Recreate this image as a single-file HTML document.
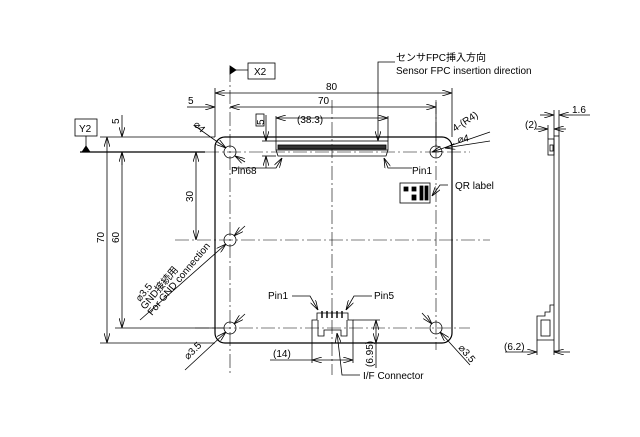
<!DOCTYPE html>
<html><head><meta charset="utf-8"><style>
html,body{margin:0;padding:0;background:#fff;width:640px;height:437px;overflow:hidden}
svg text{font-family:"Liberation Sans","Noto Sans CJK JP",sans-serif;font-size:10px;fill:#000}
</style></head><body>
<svg width="640" height="437" viewBox="0 0 640 437" xmlns="http://www.w3.org/2000/svg">
<defs>
<marker id="a" viewBox="0 0 10 6" refX="10" refY="3" markerWidth="10" markerHeight="6" orient="auto-start-reverse" markerUnits="userSpaceOnUse"><path d="M0,0 L10,3 L0,6" fill="none" stroke="#000" stroke-width="0.8"/></marker>
</defs>
<g stroke="#000" fill="none" stroke-width="0.8">
<!-- board -->
<rect x="215" y="137" width="237" height="206" rx="10" stroke-width="1.2"/>
<!-- center lines -->
<g stroke-dasharray="14,3,2,3" stroke-width="0.6">
<line x1="332" y1="100" x2="332" y2="375"/>
<line x1="230" y1="68" x2="230" y2="375"/>
<line x1="436" y1="100" x2="436" y2="350"/>
<line x1="175" y1="240" x2="490" y2="240"/>
<line x1="195" y1="328" x2="470" y2="328"/>
<line x1="205" y1="152" x2="470" y2="152"/>
</g>
<line x1="80" y1="152" x2="205" y2="152" stroke-width="1.2"/>
<line x1="100" y1="137" x2="215" y2="137"/>
<line x1="100" y1="343" x2="215" y2="343"/>
<!-- holes -->
<circle cx="230" cy="152" r="6"/><circle cx="436" cy="152" r="6"/>
<circle cx="230" cy="240" r="6"/><circle cx="230" cy="328" r="6"/><circle cx="436" cy="328" r="6"/>
<!-- X2 -->
<line x1="230" y1="70" x2="248" y2="70"/>
<rect x="248" y="63" width="27" height="16"/>
<path d="M230,66 L236,70 L230,74Z" fill="#000"/>
<!-- Y2 -->
<rect x="75" y="119" width="22" height="17"/>
<line x1="86" y1="136" x2="86" y2="150"/>
<path d="M82,152 L86,146 L90,152Z" fill="#000"/>
<!-- dims top -->
<line x1="215" y1="88" x2="215" y2="137"/><line x1="452" y1="88" x2="452" y2="137"/>
<line x1="436" y1="102" x2="436" y2="146"/>
<line x1="215" y1="93" x2="452" y2="93" marker-start="url(#a)" marker-end="url(#a)"/>
<line x1="200" y1="107" x2="215" y2="107" marker-end="url(#a)"/>
<line x1="230" y1="107" x2="436" y2="107" marker-start="url(#a)" marker-end="url(#a)"/>
<line x1="187" y1="107" x2="200" y2="107"/>
<!-- left dims -->
<line x1="107" y1="137" x2="107" y2="343" marker-start="url(#a)" marker-end="url(#a)"/>
<line x1="122" y1="152" x2="122" y2="328" marker-start="url(#a)" marker-end="url(#a)"/>
<line x1="122" y1="115" x2="122" y2="137" marker-end="url(#a)"/>
<line x1="122" y1="152" x2="122" y2="165"/>
<line x1="196" y1="152" x2="196" y2="240" marker-start="url(#a)" marker-end="url(#a)"/>
<line x1="115" y1="328" x2="224" y2="328"/>
<!-- top connector -->
<rect x="276" y="141" width="112" height="9"/>
<rect x="278" y="145" width="108" height="4" fill="#333"/>
<path d="M276,150 L278,156 L386,156 L388,150"/>
<line x1="276" y1="116" x2="276" y2="141"/><line x1="388" y1="116" x2="388" y2="141"/>
<line x1="276" y1="118" x2="388" y2="118" marker-start="url(#a)" marker-end="url(#a)"/>
<line x1="262" y1="141" x2="276" y2="141"/><line x1="262" y1="156" x2="276" y2="156"/>
<line x1="266" y1="115" x2="266" y2="141" marker-end="url(#a)"/>
<line x1="266" y1="156" x2="266" y2="168" marker-start="url(#a)"/>
<rect x="256" y="114" width="8" height="12"/>
<!-- FPC leader -->
<path d="M378,141 L378,62 L395,62" marker-start="url(#a)"/>
<!-- leaders -->
<path d="M234,168 L276,168 L282,158" marker-end="url(#a)"/>
<path d="M412,168 L388,168 L384,158" marker-end="url(#a)"/>
<line x1="195" y1="126" x2="226" y2="148" marker-end="url(#a)"/>
<line x1="245" y1="162" x2="235" y2="156" marker-end="url(#a)"/>
<line x1="490" y1="132" x2="432" y2="152" marker-end="url(#a)"/>
<line x1="490" y1="141" x2="445" y2="148" marker-end="url(#a)"/>
<!-- QR -->
<rect x="400" y="183" width="30" height="20"/>
<rect x="404" y="187" width="4" height="4" fill="#000"/><rect x="412" y="187" width="4" height="4" fill="#000"/>
<rect x="412" y="195" width="4" height="5" fill="#000"/><rect x="420" y="186" width="3" height="14" fill="#000"/><rect x="425" y="186" width="3" height="14" fill="#000"/>
<path d="M448,185 L440,185 L432,196" marker-end="url(#a)"/>
<!-- GND hole leaders -->
<line x1="140" y1="320" x2="226" y2="244" marker-end="url(#a)"/>
<line x1="245" y1="226" x2="234" y2="236" marker-end="url(#a)"/>
<line x1="185" y1="370" x2="226" y2="332" marker-end="url(#a)"/>
<line x1="245" y1="314" x2="234" y2="324" marker-end="url(#a)"/>
<line x1="470" y1="365" x2="440" y2="332" marker-end="url(#a)"/>
<line x1="422" y1="313" x2="432" y2="324" marker-end="url(#a)"/>
<!-- bottom connector -->
<path d="M312,320 L312,343 L353,343 L353,320 L348,320 L348,313 L317,313 L317,320 Z"/>
<path d="M318,320 L318,336 L324,336 L324,330 L341,330 L341,336 L347,336 L347,320"/>
<g stroke-width="1.4"><line x1="322" y1="311" x2="322" y2="318"/><line x1="327" y1="311" x2="327" y2="318"/><line x1="332" y1="311" x2="332" y2="318"/><line x1="337" y1="311" x2="337" y2="318"/><line x1="342" y1="311" x2="342" y2="318"/></g>
<path d="M292,296 L310,296 L318,310" marker-end="url(#a)"/>
<path d="M372,296 L354,296 L346,310" marker-end="url(#a)"/>
<line x1="312" y1="343" x2="312" y2="363"/><line x1="353" y1="343" x2="353" y2="363"/>
<line x1="270" y1="360" x2="312" y2="360"/>
<line x1="312" y1="360" x2="353" y2="360" marker-start="url(#a)" marker-end="url(#a)"/>
<line x1="353" y1="320" x2="380" y2="320"/><line x1="353" y1="343" x2="380" y2="343"/>
<line x1="376" y1="320" x2="376" y2="343" marker-start="url(#a)" marker-end="url(#a)"/>
<line x1="376" y1="343" x2="376" y2="368"/>
<path d="M337,333 L342,375 L360,375" marker-start="url(#a)"/>
<!-- side view -->
<rect x="554" y="136" width="5" height="215"/>
<rect x="548" y="139" width="6" height="16"/><rect x="550" y="145" width="3" height="6"/>
<path d="M554,305 L550,305 L550,312 L545,312 L545,316 L537,316 L537,340 L554,340"/>
<rect x="541" y="320" width="9" height="16"/>
<line x1="554" y1="110" x2="554" y2="136"/><line x1="559" y1="110" x2="559" y2="136"/>
<line x1="540" y1="115" x2="554" y2="115" marker-end="url(#a)"/>
<line x1="573" y1="115" x2="559" y2="115" marker-end="url(#a)"/>
<line x1="573" y1="115" x2="590" y2="115"/>
<line x1="548" y1="125" x2="548" y2="139"/>
<line x1="536" y1="129" x2="548" y2="129" marker-end="url(#a)"/>
<line x1="566" y1="129" x2="554" y2="129" marker-end="url(#a)"/>
<line x1="537" y1="340" x2="537" y2="355"/><line x1="554" y1="351" x2="554" y2="355"/>
<line x1="505" y1="352" x2="537" y2="352" marker-end="url(#a)"/>
<line x1="570" y1="352" x2="554" y2="352" marker-end="url(#a)"/>
</g>
<!-- labels -->
<text x="254" y="75">X2</text>
<text x="79" y="132">Y2</text>
<text x="326" y="90">80</text>
<text x="318" y="104">70</text>
<text x="188" y="104">5</text>
<text x="297" y="123" font-size="9">(38.3)</text>
<text x="231" y="174">Pin68</text>
<text x="412" y="174">Pin1</text>
<text x="396" y="61">センサFPC挿入方向</text>
<text x="396" y="74">Sensor FPC insertion direction</text>
<text x="455" y="189">QR label</text>
<text x="268" y="299">Pin1</text>
<text x="374" y="299">Pin5</text>
<text x="363" y="379">I/F Connector</text>
<text x="273" y="357" font-size="9">(14)</text>
<text x="572" y="113">1.6</text>
<text x="525" y="128" font-size="9">(2)</text>
<text x="504" y="350" font-size="9">(6.2)</text>
<text transform="translate(104,243) rotate(-90)">70</text>
<text transform="translate(119,243) rotate(-90)">60</text>
<text transform="translate(119,124) rotate(-90)">5</text>
<text transform="translate(193,202) rotate(-90)">30</text>
<text transform="translate(264,125) rotate(-90)" font-size="8">5</text>
<text transform="translate(193,125) rotate(45)">⌀4</text>
<text transform="translate(455,132) rotate(-33)">4-(R4)</text>
<text transform="translate(458,143) rotate(-10)">⌀4</text>
<text transform="translate(140,302) rotate(-50)">⌀3.5</text>
<text transform="translate(145,310) rotate(-50)">GND接続用</text>
<text transform="translate(152,316) rotate(-50)">For GND connection</text>
<text transform="translate(188,360) rotate(-45)">⌀3.5</text>
<text transform="translate(458,348) rotate(50)">⌀3.5</text>
<text transform="translate(373,367) rotate(-90)" font-size="9">(6.95)</text>
</svg>
</body></html>
